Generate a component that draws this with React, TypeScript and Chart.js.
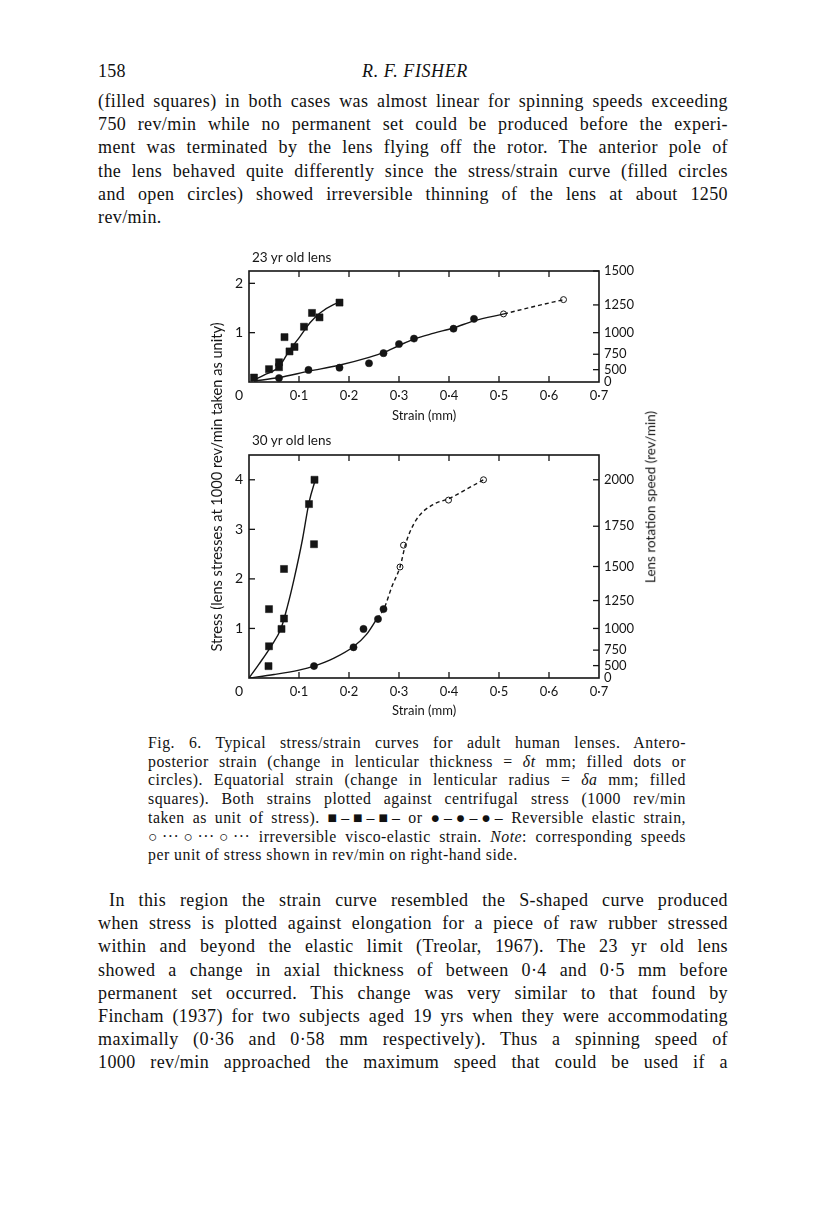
import React, { useEffect, useRef } from "react";
import { Chart, registerables } from "chart.js";
Chart.register(...registerables);

// ---------- shared axis data ----------
const xTicks = [0, 0.1, 0.2, 0.3, 0.4, 0.5, 0.6, 0.7];
const xTickLabels = ["0", "0·1", "0·2", "0·3", "0·4", "0·5", "0·6", "0·7"];

// ---------- 23 yr old lens ----------
const a_leftTicks = [1, 2];
const a_rpmTicks = [0, 500, 750, 1000, 1250, 1500];
const a_rpmLabels = ["0", "500", "750", "1000", "1250", "1500"];
const a_squareX = [0.01, 0.04, 0.06, 0.06, 0.071, 0.081, 0.091, 0.11, 0.126, 0.141, 0.181];
const a_squareY = [0.09, 0.26, 0.4, 0.3, 0.91, 0.62, 0.71, 1.12, 1.4, 1.31, 1.61];
const a_dotX = [0.06, 0.119, 0.181, 0.24, 0.269, 0.3, 0.33, 0.409, 0.45];
const a_dotY = [0.08, 0.245, 0.29, 0.38, 0.585, 0.77, 0.88, 1.08, 1.28];
const a_openX = [0.509, 0.629];
const a_openY = [1.38, 1.67];
const a_sqCurveX = [0.005, 0.03, 0.06, 0.081, 0.102, 0.122, 0.142, 0.169, 0.181];
const a_sqCurveY = [0.02, 0.14, 0.31, 0.64, 0.92, 1.2, 1.4, 1.57, 1.61];
const a_dotCurveX = [0.01, 0.06, 0.12, 0.18, 0.24, 0.27, 0.3, 0.33, 0.37, 0.41, 0.45, 0.51];
const a_dotCurveY = [0.02, 0.09, 0.22, 0.34, 0.5, 0.6, 0.74, 0.87, 0.99, 1.1, 1.24, 1.38];
const a_dashX = [0.51, 0.57, 0.63];
const a_dashY = [1.38, 1.53, 1.67];

// ---------- 30 yr old lens ----------
const b_leftTicks = [1, 2, 3, 4];
const b_rpmTicks = [0, 500, 750, 1000, 1250, 1500, 1750, 2000];
const b_rpmLabels = ["0", "500", "750", "1000", "1250", "1500", "1750", "2000"];
const b_squareX = [0.039, 0.04, 0.04, 0.065, 0.07, 0.07, 0.12, 0.13, 0.131];
const b_squareY = [0.24, 0.64, 1.39, 0.99, 1.2, 2.2, 3.51, 2.7, 4.0];
const b_dotX = [0.13, 0.209, 0.229, 0.258, 0.269];
const b_dotY = [0.24, 0.62, 0.99, 1.19, 1.39];
const b_openX = [0.302, 0.309, 0.399, 0.469];
const b_openY = [2.24, 2.68, 3.59, 4.0];
const b_sqCurveX = [0, 0.02, 0.044, 0.064, 0.077, 0.09, 0.107, 0.12, 0.133];
const b_sqCurveY = [0, 0.28, 0.64, 1.0, 1.45, 1.99, 2.8, 3.54, 4.01];
const b_dotCurveX = [0, 0.05, 0.1, 0.13, 0.17, 0.21, 0.235, 0.256];
const b_dotCurveY = [0, 0.07, 0.16, 0.24, 0.4, 0.64, 0.88, 1.2];
const b_dashX = [0.256, 0.27, 0.286, 0.302, 0.314, 0.335, 0.368, 0.4, 0.435, 0.469];
const b_dashY = [1.2, 1.4, 1.85, 2.24, 2.73, 3.2, 3.5, 3.62, 3.81, 4.0];

const INK = "#151515";
const SANS = "Lato, 'Open Sans', sans-serif";
const SERIF = "'Liberation Serif', 'Times New Roman', serif";

const pts = (xs: number[], ys: number[]) => xs.map((x, i) => ({ x, y: ys[i] }));

function curve(xs: number[], ys: number[], dash: number[] = []) {
  return {
    data: pts(xs, ys),
    showLine: true,
    pointRadius: 0,
    borderColor: INK,
    borderWidth: 1.4,
    borderDash: dash,
    cubicInterpolationMode: "monotone",
    fill: false,
    yAxisID: "y",
  };
}
function marks(xs: number[], ys: number[], style: string, r: number, filled: boolean) {
  return {
    data: pts(xs, ys),
    showLine: false,
    pointStyle: style,
    pointRadius: r,
    pointBackgroundColor: filled ? INK : "#ffffff",
    pointBorderColor: INK,
    pointBorderWidth: filled ? 0.5 : 1,
    yAxisID: "y",
  };
}

type ChartProps = {
  left: number; top: number; width: number; height: number;
  padTop: number; xAxisH: number; yMax: number;
  leftTicks: number[]; rpmTicks: number[]; rpmLabels: string[];
  datasets: any[];
};

function StrainChart(p: ChartProps) {
  const ref = useRef<HTMLCanvasElement | null>(null);
  useEffect(() => {
    if (!ref.current) return;
    const font = { family: SANS, size: 13 };
    const rpmVal = (r: number) => (r / 1000) * (r / 1000);
    const frame = {
      id: "frame",
      afterDraw(chart: any) {
        const { ctx, chartArea, scales } = chart;
        const { left, right, top, bottom } = chartArea;
        const L = 6;
        ctx.save();
        ctx.strokeStyle = INK;
        ctx.lineWidth = 1.6;
        ctx.strokeRect(left, top, right - left, bottom - top);
        ctx.lineWidth = 1.3;
        const seg = (x1: number, y1: number, x2: number, y2: number) => {
          ctx.beginPath(); ctx.moveTo(x1, y1); ctx.lineTo(x2, y2); ctx.stroke();
        };
        xTicks.slice(1, -1).forEach((v) => {
          const px = scales.x.getPixelForValue(v);
          seg(px, bottom, px, bottom - L);
          seg(px, top, px, top + L);
        });
        p.leftTicks.forEach((v) => {
          const py = scales.y.getPixelForValue(v);
          seg(left, py, left + L, py);
        });
        p.rpmTicks.forEach((r) => {
          if (r <= 0) return;
          const py = scales.y2.getPixelForValue(rpmVal(r));
          seg(right, py, right - L, py);
        });
        ctx.restore();
      },
    };
    const chart = new Chart(ref.current, {
      type: "line",
      data: { datasets: p.datasets },
      options: {
        animation: false,
        responsive: false,
        maintainAspectRatio: false,
        devicePixelRatio: 1,
        layout: { padding: { top: p.padTop, left: 0, right: 0, bottom: 0 } },
        plugins: { legend: { display: false }, tooltip: { enabled: false }, title: { display: false } },
        scales: {
          x: {
            type: "linear",
            position: "bottom",
            min: 0,
            max: 0.7,
            afterBuildTicks: (s: any) => { s.ticks = xTicks.map((v) => ({ value: v })); },
            ticks: {
              autoSkip: false,
              maxRotation: 0,
              padding: 6,
              color: INK,
              font,
              callback: (v: any) => {
                const i = xTicks.findIndex((t) => Math.abs(t - Number(v)) < 1e-9);
                return i <= 0 ? "" : xTickLabels[i];
              },
            },
            grid: { display: false, drawTicks: false, tickLength: 0 },
            border: { display: false },
            title: { display: true, text: "Strain (mm)", color: INK, font, padding: { top: 0, bottom: 6 } },
            afterFit: (s: any) => { s.height = p.xAxisH; },
          },
          y: {
            type: "linear",
            position: "left",
            min: 0,
            max: p.yMax,
            afterBuildTicks: (s: any) => { s.ticks = p.leftTicks.map((v) => ({ value: v })); },
            ticks: { autoSkip: false, padding: 6, color: INK, font: { family: SANS, size: 14 }, callback: (v: any) => String(v) },
            grid: { display: false, drawTicks: false, tickLength: 0 },
            border: { display: false },
            afterFit: (s: any) => { s.width = 49; },
          },
          y2: {
            type: "linear",
            position: "right",
            min: 0,
            max: p.yMax,
            afterBuildTicks: (s: any) => { s.ticks = p.rpmTicks.map((r) => ({ value: rpmVal(r) })); },
            ticks: {
              autoSkip: false,
              padding: 5,
              color: INK,
              font,
              callback: (v: any) => {
                const i = p.rpmTicks.findIndex((r) => Math.abs(rpmVal(r) - Number(v)) < 1e-9);
                return i < 0 ? "" : p.rpmLabels[i];
              },
            },
            grid: { display: false, drawTicks: false, tickLength: 0 },
            border: { display: false },
            afterFit: (s: any) => { s.width = 51; },
          },
        },
      } as any,
      plugins: [frame],
    } as any);
    return () => chart.destroy();
  }, []);
  return (
    <canvas
      ref={ref}
      width={p.width}
      height={p.height}
      style={{ position: "absolute", left: p.left, top: p.top, width: p.width, height: p.height }}
    />
  );
}

// ---------- page text ----------
const para1 = [
  "(filled squares) in both cases was almost linear for spinning speeds exceeding",
  "750 rev/min while no permanent set could be produced before the experi-",
  "ment was terminated by the lens flying off the rotor. The anterior pole of",
  "the lens behaved quite differently since the stress/strain curve (filled circles",
  "and open circles) showed irreversible thinning of the lens at about 1250",
  "rev/min.",
];
const para2 = [
  "In this region the strain curve resembled the S-shaped curve produced",
  "when stress is plotted against elongation for a piece of raw rubber stressed",
  "within and beyond the elastic limit (Treolar, 1967). The 23 yr old lens",
  "showed a change in axial thickness of between 0·4 and 0·5 mm before",
  "permanent set occurred. This change was very similar to that found by",
  "Fincham (1937) for two subjects aged 19 yrs when they were accommodating",
  "maximally (0·36 and 0·58 mm respectively). Thus a spinning speed of",
  "1000 rev/min approached the maximum speed that could be used if a",
];

function Line(props: { x: number; y: number; w: number; size: number; lh: number; ls?: number; last?: boolean; children: any }) {
  return (
    <div
      style={{
        position: "absolute",
        left: props.x,
        top: props.y - props.lh / 2 - 2,
        width: props.w,
        height: props.lh,
        lineHeight: props.lh + "px",
        fontSize: props.size,
        fontFamily: SERIF,
        letterSpacing: (props.ls ?? 0) + "px",
        color: "#111",
        whiteSpace: "nowrap",
        textAlign: props.last ? "left" : "justify",
        textAlignLast: props.last ? "left" : "justify",
      } as any}
    >
      {props.children}
    </div>
  );
}

const Abs = (props: { x: number; y: number; size: number; children: any; rot?: boolean; center?: boolean }) => (
  <div
    style={{
      position: "absolute",
      left: props.x,
      top: props.y,
      fontFamily: SANS,
      fontSize: props.size,
      color: INK,
      whiteSpace: "nowrap",
      lineHeight: 1,
      transform: props.rot ? "translate(-50%,-50%) rotate(-90deg)" : props.center ? "translate(-50%,-50%)" : "translate(0,-50%)",
    }}
  >
    {props.children}
  </div>
);

export default function App() {
  const topSets = [
    curve(a_sqCurveX, a_sqCurveY),
    curve(a_dotCurveX, a_dotCurveY),
    curve(a_dashX, a_dashY, [4, 3]),
    marks(a_squareX, a_squareY, "rect", 5, true),
    marks(a_dotX, a_dotY, "circle", 3.6, true),
    marks(a_openX, a_openY, "circle", 3, false),
  ];
  const botSets = [
    curve(b_sqCurveX, b_sqCurveY),
    curve(b_dotCurveX, b_dotCurveY),
    curve(b_dashX, b_dashY, [4, 3]),
    marks(b_squareX, b_squareY, "rect", 5, true),
    marks(b_dotX, b_dotY, "circle", 3.6, true),
    marks(b_openX, b_openY, "circle", 3, false),
  ];
  return (
    <div style={{ position: "absolute", left: 0, top: 0, width: 816, height: 1205, background: "#fff", overflow: "hidden" }}>
      {/* header */}
      <Line x={98} y={73} w={40} size={18} lh={22} ls={0.3} last>158</Line>
      <div
        style={{
          position: "absolute", left: 315, width: 200, top: 73 - 13, height: 22, lineHeight: "22px",
          textAlign: "center", fontFamily: SERIF, fontStyle: "italic", fontSize: 18, letterSpacing: 0.6, color: "#111",
        }}
      >
        R. F. FISHER
      </div>

      {para1.map((t, i) => (
        <Line key={"p1" + i} x={98} y={103 + 23.2 * i} w={630} size={18} lh={22} ls={0.4} last={i === para1.length - 1}>
          {t}
        </Line>
      ))}

      {/* charts */}
      <StrainChart
        left={200} top={245} width={450} height={185} padTop={26} xAxisH={48} yMax={2.25}
        leftTicks={a_leftTicks} rpmTicks={a_rpmTicks} rpmLabels={a_rpmLabels} datasets={topSets}
      />
      <StrainChart
        left={200} top={430} width={450} height={295} padTop={25} xAxisH={47} yMax={4.5}
        leftTicks={b_leftTicks} rpmTicks={b_rpmTicks} rpmLabels={b_rpmLabels} datasets={botSets}
      />
      <Abs x={252} y={258} size={13.5}>23 yr old lens</Abs>
      <Abs x={252} y={441} size={13.5}>30 yr old lens</Abs>
      <Abs x={239} y={395} size={14} center>0</Abs>
      <Abs x={239} y={691} size={14} center>0</Abs>
      <Abs x={217} y={487} size={14.6} rot>Stress (lens stresses at 1000 rev/min taken as unity)</Abs>
      <Abs x={651} y={497} size={13.5} rot>Lens rotation speed (rev/min)</Abs>

      {/* caption */}
      {[
        <>Fig. 6. Typical stress/strain curves for adult human lenses. Antero-</>,
        <>posterior strain (change in lenticular thickness = <i>δt</i> mm; filled dots or</>,
        <>circles). Equatorial strain (change in lenticular radius = <i>δa</i> mm; filled</>,
        <>squares). Both strains plotted against centrifugal stress (1000 rev/min</>,
        <>taken as unit of stress). ■–■–■– or ●–●–●– Reversible elastic strain,</>,
        <>○···○···○··· irreversible visco-elastic strain. <i>Note</i>: corresponding speeds</>,
        <>per unit of stress shown in rev/min on right-hand side.</>,
      ].map((c, i) => (
        <Line key={"c" + i} x={148} y={745 + 18.7 * i} w={538} size={15.8} lh={18} ls={0.5} last={i === 6}>
          {c}
        </Line>
      ))}

      {para2.map((t, i) => (
        <Line key={"p2" + i} x={i === 0 ? 109 : 98} y={902 + 23.2 * i} w={i === 0 ? 619 : 630} size={18} lh={22} ls={0.4}>
          {t}
        </Line>
      ))}
    </div>
  );
}
